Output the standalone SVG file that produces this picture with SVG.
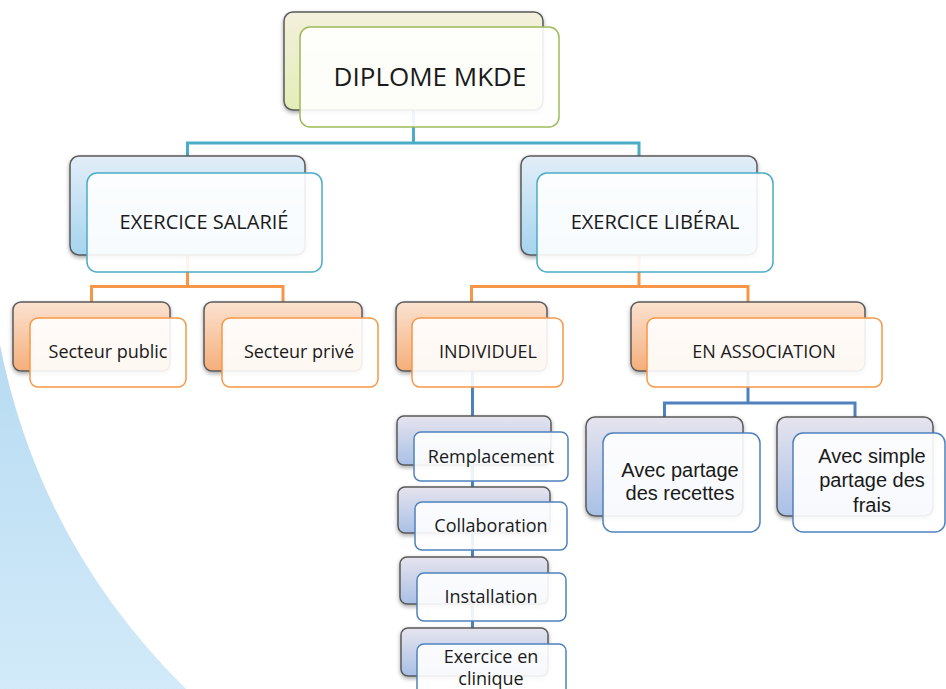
<svg xmlns="http://www.w3.org/2000/svg" width="946" height="689" viewBox="0 0 946 689">
<defs>
<linearGradient id="gBg" x1="0" y1="0" x2="0" y2="1"><stop offset="0" stop-color="#B7DBF2"/><stop offset="1" stop-color="#D2EAF9"/></linearGradient>
<linearGradient id="gGreen" x1="0" y1="0" x2="0" y2="1"><stop offset="0" stop-color="#F3F0DC"/><stop offset="1" stop-color="#E3EDB8"/></linearGradient>
<linearGradient id="gAqua" x1="0" y1="0" x2="0" y2="1"><stop offset="0" stop-color="#E2EEF8"/><stop offset="1" stop-color="#A6D4EE"/></linearGradient>
<linearGradient id="gOrange" x1="0" y1="0" x2="0" y2="1"><stop offset="0" stop-color="#FBE2D0"/><stop offset="1" stop-color="#F5AE7A"/></linearGradient>
<linearGradient id="gBlue" x1="0" y1="0" x2="0" y2="1"><stop offset="0" stop-color="#E6E4EE"/><stop offset="1" stop-color="#A9C0E6"/></linearGradient>
<filter id="sh" x="-10%" y="-10%" width="125%" height="130%"><feDropShadow dx="0" dy="2" stdDeviation="2" flood-color="#000" flood-opacity="0.35"/></filter>
<style>
.back{stroke:#5A5A5A;stroke-width:1.5;filter:url(#sh)}
.front{fill:#FFFFFF;fill-opacity:0.9;stroke-width:1.5}
.fg{stroke:#9BBB59}
.fa{stroke:#4BACC6}
.fo{stroke:#F79646}
.fb{stroke:#4F81BD}
.conn{fill:none;stroke-width:3}
text{font-family:"Open Sans","Noto Sans","Liberation Sans",sans-serif;fill:#1A1A1A;text-anchor:middle}
.t1{font-size:26px}
.t2{font-size:20px}
.t3{font-size:18px}
.t4{font-size:18px}
.t5{font-size:20px;font-family:"Liberation Sans","Open Sans",sans-serif}
</style>
</defs>
<rect width="946" height="689" fill="#FFFFFF"/>
<path d="M0 345 Q40 545 186 689 L0 689 Z" fill="url(#gBg)"/>
<g id="connectors">
<path class="conn" stroke="#4BACC6" d="M413.5 110 V143 M187.5 156 V143 H639 V156"/>
<path class="conn" stroke="#F79646" d="M187.5 255 V286.5 M91.5 302 V286.5 H283 V302"/>
<path class="conn" stroke="#F79646" d="M639 255 V286.5 M471.5 302 V286.5 H748 V302"/>
<path class="conn" stroke="#4F81BD" d="M472.5 371 V652"/>
<path class="conn" stroke="#4F81BD" d="M748 371 V403 M664.5 417 V403 H855 V417"/>
</g>
<g id="diplome">
<rect class="back" x="284" y="12" width="259" height="98" rx="9" fill="url(#gGreen)"/>
<rect class="front fg" x="300" y="27" width="259" height="100" rx="10"/>
<text class="t1" x="430" y="86">DIPLOME MKDE</text>
</g>
<g id="salarie">
<rect class="back" x="70" y="156" width="235" height="99" rx="9" fill="url(#gAqua)"/>
<rect class="front fa" x="87" y="173" width="235" height="99" rx="10"/>
<text class="t2" x="204" y="229">EXERCICE SALARIÉ</text>
</g>
<g id="liberal">
<rect class="back" x="521" y="156" width="236" height="99" rx="9" fill="url(#gAqua)"/>
<rect class="front fa" x="537" y="173" width="236" height="99" rx="10"/>
<text class="t2" x="655" y="229">EXERCICE LIBÉRAL</text>
</g>
<g id="public">
<rect class="back" x="13" y="302" width="157" height="69" rx="8" fill="url(#gOrange)"/>
<rect class="front fo" x="30" y="318" width="156" height="69" rx="8"/>
<text class="t3" x="108" y="358">Secteur public</text>
</g>
<g id="prive">
<rect class="back" x="204" y="302" width="158" height="69" rx="8" fill="url(#gOrange)"/>
<rect class="front fo" x="222" y="318" width="156" height="69" rx="8"/>
<text class="t3" x="299" y="358">Secteur privé</text>
</g>
<g id="individuel">
<rect class="back" x="396" y="302" width="151" height="69" rx="8" fill="url(#gOrange)"/>
<rect class="front fo" x="412" y="318" width="151" height="69" rx="8"/>
<text class="t3" x="488" y="358">INDIVIDUEL</text>
</g>
<g id="association">
<rect class="back" x="631" y="302" width="234" height="69" rx="8" fill="url(#gOrange)"/>
<rect class="front fo" x="647" y="318" width="235" height="69" rx="8"/>
<text class="t3" x="764" y="358">EN ASSOCIATION</text>
</g>
<g id="remplacement">
<rect class="back" x="397" y="416" width="154" height="49" rx="7" fill="url(#gBlue)"/>
<rect class="front fb" x="414" y="432" width="154" height="49" rx="7"/>
<text class="t4" x="491" y="463">Remplacement</text>
</g>
<g id="collaboration">
<rect class="back" x="398" y="487" width="152" height="46" rx="7" fill="url(#gBlue)"/>
<rect class="front fb" x="415" y="502" width="152" height="48" rx="7"/>
<text class="t4" x="491" y="532">Collaboration</text>
</g>
<g id="installation">
<rect class="back" x="400" y="557" width="148" height="47" rx="7" fill="url(#gBlue)"/>
<rect class="front fb" x="417" y="573" width="149" height="48" rx="7"/>
<text class="t4" x="491" y="603">Installation</text>
</g>
<g id="clinique">
<rect class="back" x="401" y="628" width="147" height="48" rx="7" fill="url(#gBlue)"/>
<rect class="front fb" x="417" y="644" width="149" height="52" rx="7"/>
<text class="t4" x="491" y="663">Exercice en<tspan x="491" dy="22">clinique</tspan></text>
</g>
<g id="recettes">
<rect class="back" x="586" y="417" width="157" height="99" rx="9" fill="url(#gBlue)"/>
<rect class="front fb" x="603" y="433" width="157" height="99" rx="10"/>
<text class="t5" x="680" y="477">Avec partage<tspan x="680" dy="23">des recettes</tspan></text>
</g>
<g id="frais">
<rect class="back" x="777" y="417" width="156" height="99" rx="9" fill="url(#gBlue)"/>
<rect class="front fb" x="793" y="433" width="152" height="99" rx="10"/>
<text class="t5" x="872" y="463">Avec simple<tspan x="872" dy="24">partage des</tspan><tspan x="872" dy="25">frais</tspan></text>
</g>
</svg>
